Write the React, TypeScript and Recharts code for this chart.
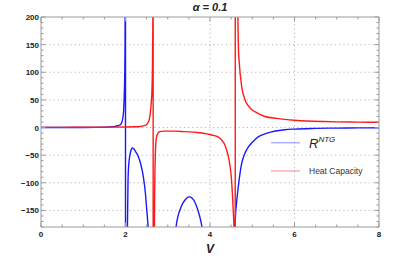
import { LineChart, Line, XAxis, YAxis, ReferenceLine, Legend } from "recharts";

// R^NTG (bleu)
const rX = [0, 0.5, 1.0, 1.3, 1.5, 1.65, 1.75, 1.82, 1.865, 1.9, 1.92, 1.94, 1.955, 1.967, 1.978, 1.988, 1.994, 1.999,
  2.001, 2.02, 2.045, 2.06, 2.08, 2.1, 2.13, 2.16, 2.2, 2.25, 2.3, 2.36, 2.42, 2.47, 2.5, 2.535, 2.58, 2.7,
  3.0, 3.12, 3.196, 3.25, 3.3, 3.35, 3.4, 3.45, 3.51, 3.57, 3.62, 3.67, 3.72, 3.77, 3.81, 3.88, 4.0,
  4.4, 4.55, 4.59, 4.63, 4.67, 4.75, 4.83, 4.91, 5.0, 5.14, 5.3, 5.46, 5.77, 6.0, 6.5, 7.0, 7.5, 8.0];
const rY = [0, 0.05, 0.15, 0.35, 0.7, 1.2, 2.0, 3.2, 4.5, 7, 11, 19, 30, 50, 80, 140, 250, 2000,
  -2000, -600, -185, -95, -64, -52, -41, -37, -39, -45, -52, -66, -88, -118, -146, -180, -240, -400,
  -400, -260, -180, -158, -147, -138, -132, -127.5, -125.5, -127.5, -132, -140, -151, -165, -180, -220, -400,
  -500, -400, -180, -135, -107, -65, -46, -35, -27, -17, -11.5, -7.8, -4, -2.8, -1.6, -1.0, -0.7, -0.5];

// Heat Capacity (rouge)
const hX = [0, 0.5, 1.0, 1.5, 2.0, 2.2, 2.34, 2.45, 2.5, 2.54, 2.57, 2.59, 2.61, 2.625, 2.638, 2.648, 2.653,
  2.656, 2.67, 2.69, 2.71, 2.73, 2.77, 2.81, 2.9, 3.0, 3.17, 3.4, 3.7, 3.92, 4.1, 4.23, 4.3, 4.35, 4.39, 4.45,
  4.51, 4.55, 4.57, 4.585, 4.595, 4.6, 4.62, 4.65, 4.67, 4.7, 4.75, 4.83, 4.9, 4.99, 5.1, 5.3, 5.58, 5.77,
  6.0, 6.3, 6.7, 7.0, 7.5, 8.0];
const hY = [0.3, 0.35, 0.5, 0.7, 1.0, 1.3, 1.8, 3.5, 5.5, 10, 17, 28, 45, 65, 110, 200, 2000,
  -2000, -400, -120, -40, -19, -10, -7.5, -6.5, -6.5, -6.5, -7.5, -9, -11.5, -14.5, -19, -25, -31, -40, -58,
  -95, -150, -190, -400, -2000, 2000, 600, 250, 150, 110, 74, 50, 40, 32, 27, 20, 16.5, 14.8,
  13.2, 11.8, 10.8, 10.3, 9.8, 9.5];

const xTicks = [0, 0.5, 1, 1.5, 2, 2.5, 3, 3.5, 4, 4.5, 5, 5.5, 6, 6.5, 7, 7.5, 8];
const xLabels = [0, 2, 4, 6, 8];
const yTicks = [-180, -170, -160, -150, -140, -130, -120, -110, -100, -90, -80, -70, -60, -50, -40, -30, -20, -10,
  0, 10, 20, 30, 40, 50, 60, 70, 80, 90, 100, 110, 120, 130, 140, 150, 160, 170, 180, 190, 200];
const yLabels = [-150, -100, -50, 0, 50, 100, 150, 200];
const xGrid = [2, 4, 6];
const yGrid = [-150, -100, -50, 0, 50, 100, 150];
const legendOrder = ["R^NTG", "Heat Capacity"];

const rData = rX.map((x, i) => ({ x, y: rY[i] }));
const hData = hX.map((x, i) => ({ x, y: hY[i] }));

const FRAME = "#9a9a9a";
const GRID = "#b8b8b8";
const FONT = "'Liberation Sans', Arial, sans-serif";

const fmt = (v: number) => (v < 0 ? `\u2212${Math.abs(v)}` : `${v}`);

function makeTick(side: "bottom" | "top" | "left" | "right") {
  return (props: any) => {
    const { x, y, payload } = props;
    const v = payload.value;
    const isX = side === "bottom" || side === "top";
    const major = isX ? xLabels.includes(v) : yLabels.includes(v);
    const len = major ? 4.5 : 2.5;
    if (side === "bottom") {
      return (
        <g>
          <line x1={x} x2={x} y1={y} y2={y - len} stroke={FRAME} />
          {major && (
            <text x={x} y={y + 10} textAnchor="middle" fontSize={8} fontWeight="bold" fill="#222" fontFamily={FONT}>
              {v}
            </text>
          )}
        </g>
      );
    }
    if (side === "top") return <line x1={x} x2={x} y1={y} y2={y + len} stroke={FRAME} />;
    if (side === "left") {
      return (
        <g>
          <line x1={x} x2={x + len} y1={y} y2={y} stroke={FRAME} />
          {major && (
            <text x={x - 2} y={y + 3} textAnchor="end" fontSize={8} fontWeight="bold" fill="#222" fontFamily={FONT}>
              {fmt(v)}
            </text>
          )}
        </g>
      );
    }
    return <line x1={x} x2={x - len} y1={y} y2={y} stroke={FRAME} />;
  };
}

const renderLegend = (props: any) => {
  const payload = [...(props.payload || [])].sort(
    (a: any, b: any) => legendOrder.indexOf(String(a.value)) - legendOrder.indexOf(String(b.value))
  );
  return (
    <svg width={125} height={50}>
      {payload.map((p: any, i: number) => {
        const ly = i === 0 ? 12.7 : 41;
        const name = String(p.value);
        const [base, sup] = name.split("^");
        return (
          <g key={name}>
            <line x1={3} x2={32} y1={ly} y2={ly} stroke={p.color} strokeOpacity={0.35} strokeWidth={1.5} />
            {sup ? (
              <text x={41} y={ly + 5} fontFamily={FONT} fill="#222" fontStyle="italic">
                <tspan fontSize={13}>{base}</tspan>
                <tspan fontSize={8} dy={-6}>{sup}</tspan>
              </text>
            ) : (
              <text x={41} y={ly + 3} fontFamily={FONT} fill="#333" fontSize={8.5}>
                {base}
              </text>
            )}
          </g>
        );
      })}
    </svg>
  );
};

export default function App() {
  return (
    <div style={{ position: "absolute", left: 0, top: 0, width: 415, height: 260, background: "#fff" }}>
      <LineChart width={415} height={260} margin={{ top: 16, right: 35, bottom: 13, left: 11 }}>
        <XAxis xAxisId="b" dataKey="x" type="number" domain={[0, 8]} allowDataOverflow ticks={xTicks} interval={0}
          tickSize={0} tickMargin={0} tickLine={false} height={20} axisLine={{ stroke: FRAME }} tick={makeTick("bottom")}
          label={{ value: "V", position: "insideBottom", offset: -6, fontStyle: "italic", fontWeight: "bold", fontSize: 12, fill: "#222", fontFamily: FONT }} />
        <XAxis xAxisId="t" orientation="top" dataKey="x" type="number" domain={[0, 8]} allowDataOverflow ticks={xTicks}
          interval={0} tickSize={0} tickMargin={0} tickLine={false} height={1} axisLine={{ stroke: FRAME }} tick={makeTick("top")} />
        <YAxis yAxisId="l" type="number" domain={[-180, 200]} allowDataOverflow ticks={yTicks} interval={0}
          tickSize={0} tickMargin={0} tickLine={false} width={30} axisLine={{ stroke: FRAME }} tick={makeTick("left")} />
        <YAxis yAxisId="r" orientation="right" type="number" domain={[-180, 200]} allowDataOverflow ticks={yTicks}
          interval={0} tickSize={0} tickMargin={0} tickLine={false} width={1} axisLine={{ stroke: FRAME }} tick={makeTick("right")} />
        {yGrid.map((v) => (
          <ReferenceLine key={`gy${v}`} xAxisId="b" yAxisId="l" y={v} stroke={GRID} strokeDasharray="1.2 3" />
        ))}
        {xGrid.map((v) => (
          <ReferenceLine key={`gx${v}`} xAxisId="b" yAxisId="l" x={v} stroke={GRID} strokeDasharray="1.2 3" />
        ))}
        <Line xAxisId="b" yAxisId="l" data={rData} dataKey="y" name="R^NTG" type="monotone" stroke="#1a1aff"
          strokeWidth={1.4} dot={false} isAnimationActive={false} legendType="line" />
        <Line xAxisId="b" yAxisId="l" data={hData} dataKey="y" name="Heat Capacity" type="monotone" stroke="#ff1a1a"
          strokeWidth={1.4} dot={false} isAnimationActive={false} legendType="line" />
        <Legend layout="vertical" align="center" verticalAlign="middle" content={renderLegend}
          wrapperStyle={{ position: "absolute", left: 268, top: 130, width: 125, height: 50 }} />
        <text x={210} y={11} textAnchor="middle" fontSize={11} fontStyle="italic" fontWeight="bold" fill="#222" fontFamily={FONT}>
          α = 0.1
        </text>
      </LineChart>
    </div>
  );
}
